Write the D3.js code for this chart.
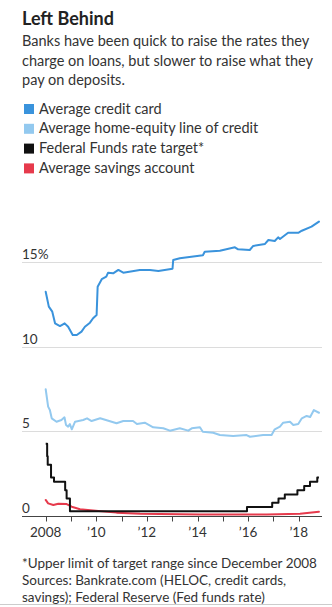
<!DOCTYPE html>
<html>
<head>
<meta charset="utf-8">
<script src="https://cdn.jsdelivr.net/npm/d3@7"></script>
<style>
  html, body { margin: 0; padding: 0; background: #fff; }
  svg { display: block; font-family: Lato, "Noto Sans", sans-serif; }
</style>
</head>
<body>
<div id="chart"></div>
<script>
// Average credit card rate, %
const creditCard = [
  ["2008-01-01", 13.24], ["2008-02-15", 12.36], ["2008-04-05", 12.06], ["2008-05-15", 11.37],
  ["2008-07-25", 11.21], ["2008-10-01", 11.37], ["2008-11-20", 11.17], ["2009-01-25", 10.68],
  ["2009-03-25", 10.68], ["2009-06-01", 10.88], ["2009-07-20", 11.17], ["2009-10-01", 11.41],
  ["2009-11-15", 11.67], ["2010-01-05", 11.86], ["2010-01-20", 13.54], ["2010-03-20", 13.98],
  ["2010-05-25", 14.13], ["2010-06-20", 14.37], ["2010-09-01", 14.33], ["2010-11-15", 14.53],
  ["2011-01-25", 14.37], ["2011-09-20", 14.53], ["2012-02-15", 14.53], ["2012-06-15", 14.47],
  ["2013-01-05", 14.6], ["2013-01-15", 15.12], ["2013-04-20", 15.22], ["2014-03-20", 15.4],
  ["2014-04-15", 15.61], ["2014-11-20", 15.67], ["2015-06-25", 15.87], ["2015-08-10", 15.75],
  ["2016-01-25", 15.71], ["2016-03-15", 15.95], ["2016-09-01", 16.07], ["2016-10-20", 16.3],
  ["2017-01-20", 16.24], ["2017-03-10", 16.46], ["2017-04-05", 16.36], ["2017-08-01", 16.73],
  ["2017-12-25", 16.73], ["2018-02-15", 16.85], ["2018-07-05", 17.09], ["2018-10-20", 17.39]
];

// Average home-equity line of credit, %
const heloc = [
  ["2008-01-01", 7.47], ["2008-02-05", 6.44], ["2008-03-01", 6.24], ["2008-03-28", 5.75],
  ["2008-06-05", 5.55], ["2008-08-15", 5.65], ["2008-09-28", 5.81], ["2008-10-20", 5.36],
  ["2008-11-20", 5.26], ["2008-12-15", 5.41], ["2009-01-12", 5.1], ["2009-02-28", 5.55],
  ["2009-06-25", 5.65], ["2009-08-20", 5.75], ["2009-10-25", 5.59], ["2010-02-25", 5.75],
  ["2010-10-20", 5.46], ["2011-01-25", 5.59], ["2011-06-15", 5.59], ["2011-08-10", 5.41],
  ["2011-12-01", 5.49], ["2012-04-01", 5.22], ["2012-08-25", 5.16], ["2012-11-28", 5.02],
  ["2013-04-20", 5.16], ["2013-08-20", 5.02], ["2013-10-10", 5.16], ["2014-02-05", 5.22],
  ["2014-03-18", 4.96], ["2014-08-15", 4.9], ["2014-11-20", 4.76], ["2015-05-30", 4.7],
  ["2015-12-10", 4.76], ["2016-01-28", 4.66], ["2016-08-05", 4.76], ["2016-12-05", 4.76],
  ["2017-01-20", 5.1], ["2017-04-05", 5.26], ["2017-05-22", 5.49], ["2017-08-28", 5.55],
  ["2017-10-15", 5.36], ["2017-12-25", 5.41], ["2018-02-15", 5.75], ["2018-04-25", 5.89],
  ["2018-06-15", 5.83], ["2018-08-08", 6.24], ["2018-10-20", 6.08]
];

// Federal funds rate target (upper limit since Dec 2008), %
const fedFunds = [
  ["2008-01-01", 4.25], ["2008-01-22", 3.5], ["2008-01-30", 3.0], ["2008-03-18", 2.25],
  ["2008-04-30", 2.0], ["2008-10-08", 1.5], ["2008-10-29", 1.0], ["2008-12-16", 0.25],
  ["2015-12-16", 0.5], ["2016-12-14", 0.75], ["2017-03-15", 1.0], ["2017-06-14", 1.25],
  ["2017-12-13", 1.5], ["2018-03-21", 1.75], ["2018-06-13", 2.0], ["2018-09-26", 2.25],
  ["2018-10-20", 2.25]
];

// Average savings account, %
const savings = [
  ["2008-01-01", 0.92], ["2008-02-05", 0.72], ["2008-04-20", 0.62], ["2008-07-01", 0.7],
  ["2008-10-30", 0.68], ["2009-01-10", 0.52], ["2009-05-10", 0.37], ["2009-11-15", 0.3],
  ["2010-10-20", 0.17], ["2011-09-25", 0.1], ["2014-02-05", 0.06], ["2016-09-25", 0.06],
  ["2018-01-20", 0.11], ["2018-10-20", 0.22]
];

const yTicks = [0, 5, 10, 15];
const yTickLabels = ["0", "5", "10", "15%"];
const xTickYears = d3.range(2008, 2019);
const xLabel = yr => yr === 2008 ? "2008" : (yr % 2 === 0 ? "\u2019" + String(yr).slice(2) : "");

const legendItems = [
  { label: "Average credit card", color: "#3a93dc" },
  { label: "Average home-equity line of credit", color: "#93c9ef" },
  { label: "Federal Funds rate target*", color: "#111111" },
  { label: "Average savings account", color: "#e63a4c" }
];

const width = 332, height = 607;
const parse = d3.timeParse("%Y-%m-%d");

const svg = d3.select("#chart").append("svg")
  .attr("width", width).attr("height", height)
  .attr("viewBox", `0 0 ${width} ${height}`);

// Title + subtitle
svg.append("text").attr("x", 22).attr("y", 25)
  .attr("font-size", 18).attr("font-weight", 700).attr("fill", "#222")
  .text("Left Behind");

const sub = ["Banks have been quick to raise the rates they",
  "charge on loans, but slower to raise what they",
  "pay on deposits."];
svg.append("g").selectAll("text").data(sub).join("text")
  .attr("x", 22).attr("y", (d, i) => 46 + i * 19.6)
  .attr("font-size", 14.5).attr("fill", "#333")
  .text(d => d);

// Legend
const legend = svg.append("g").selectAll("g").data(legendItems).join("g")
  .attr("transform", (d, i) => `translate(24,${104 + i * 19.8})`);
legend.append("rect").attr("width", 10).attr("height", 10).attr("fill", d => d.color);
legend.append("text").attr("x", 15).attr("y", 9.5)
  .attr("font-size", 14.5).attr("fill", "#333").text(d => d.label);

// Scales
const x = d3.scaleTime()
  .domain([new Date(2008, 0, 1), new Date(2019, 0, 1)])
  .range([45.7, 45.7 + 11 * 25.3]);
const y = d3.scaleLinear().domain([0, 15]).range([515.5, 262]);

// Gridlines
const grid = svg.append("g");
grid.selectAll("line").data(yTicks.filter(d => d !== 0)).join("line")
  .attr("x1", 22).attr("x2", 322)
  .attr("y1", d => Math.round(y(d)) + 0.5).attr("y2", d => Math.round(y(d)) + 0.5)
  .attr("stroke", "#dcdcdc").attr("stroke-width", 1);
grid.selectAll("text").data(yTicks).join("text")
  .attr("x", 22).attr("y", d => y(d) - 3)
  .attr("font-size", 13.5).attr("fill", "#333")
  .text((d, i) => yTickLabels[i]);

// Lines
const line = d3.line()
  .x(d => x(parse(d[0])))
  .y(d => y(d[1]));

const plot = svg.append("g").attr("fill", "none")
  .attr("stroke-linejoin", "round").attr("stroke-linecap", "round");

plot.append("path").datum(savings)
  .attr("stroke", "#e63a4c").attr("stroke-width", 2)
  .attr("d", line);
plot.append("path").datum(heloc)
  .attr("stroke", "#93c9ef").attr("stroke-width", 2)
  .attr("d", line);
plot.append("path").datum(creditCard)
  .attr("stroke", "#3a93dc").attr("stroke-width", 2)
  .attr("d", line);
plot.append("path").datum(fedFunds)
  .attr("stroke", "#111").attr("stroke-width", 2)
  .attr("stroke-linecap", "butt")
  .attr("d", d3.line().x(d => x(parse(d[0]))).y(d => y(d[1])).curve(d3.curveStepAfter));

// X axis
const axis = svg.append("g").attr("transform", `translate(0,${Math.round(y(0)) + 0.5})`);
axis.append("line").attr("x1", 22).attr("x2", 322).attr("stroke", "#444").attr("stroke-width", 1);
axis.selectAll(".tick").data(xTickYears).join("line")
  .attr("class", "tick")
  .attr("x1", d => Math.round(x(new Date(d, 0, 1))) + 0.5)
  .attr("x2", d => Math.round(x(new Date(d, 0, 1))) + 0.5)
  .attr("y1", 0).attr("y2", 5).attr("stroke", "#444");
axis.selectAll(".lbl").data(xTickYears.filter(d => xLabel(d))).join("text")
  .attr("class", "lbl")
  .attr("x", d => x(new Date(d, 0, 1))).attr("y", 20)
  .attr("text-anchor", "middle").attr("font-size", 13.5).attr("fill", "#333")
  .text(d => xLabel(d));

// Footnotes
const notes = ["*Upper limit of target range since December 2008",
  "Sources: Bankrate.com (HELOC, credit cards,",
  "savings); Federal Reserve (Fed funds rate)"];
svg.append("g").selectAll("text").data(notes).join("text")
  .attr("x", 22).attr("y", (d, i) => 568 + i * 17)
  .attr("font-size", 13.5).attr("fill", "#333").text(d => d);

svg.append("line").attr("x1", 0).attr("x2", width).attr("y1", 604.5).attr("y2", 604.5)
  .attr("stroke", "#ccc");
</script>
</body>
</html>
